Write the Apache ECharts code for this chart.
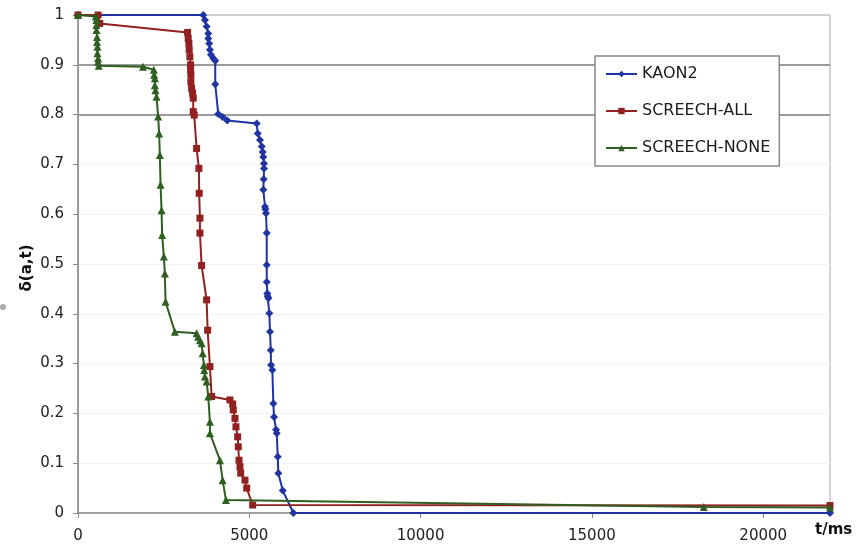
<!DOCTYPE html>
<html><head><meta charset="utf-8">
<script src="https://cdn.jsdelivr.net/npm/echarts@6/dist/echarts.min.js"></script>
<style>html,body{margin:0;padding:0;background:#fff}#c{width:866px;height:549px}</style>
</head><body><div id="c"></div>
<script>
const seriesNames = ['KAON2', 'SCREECH-ALL', 'SCREECH-NONE'];
const kaon2 = [[0,1],[3655,1],[3705,0.99],[3754,0.977],[3801,0.963],[3801,0.953],[3830,0.943],[3851,0.93],[3880,0.92],[3947,0.913],[4006,0.908],[4006,0.861],[4094,0.801],[4222,0.795],[4357,0.788],[5216,0.782],[5246,0.762],[5313,0.749],[5363,0.736],[5390,0.725],[5409,0.715],[5430,0.702],[5430,0.692],[5420,0.67],[5409,0.649],[5459,0.615],[5470,0.61],[5488,0.602],[5509,0.562],[5509,0.498],[5509,0.464],[5526,0.441],[5535,0.435],[5556,0.431],[5585,0.401],[5605,0.364],[5626,0.327],[5635,0.297],[5673,0.287],[5702,0.22],[5722,0.193],[5781,0.167],[5801,0.16],[5830,0.113],[5848,0.08],[5977,0.045],[6287,0],[21950,0]];
const screechAll = [[0,1],[585,1],[635,0.983],[3199,0.965],[3216,0.953],[3237,0.943],[3246,0.93],[3266,0.916],[3287,0.9],[3287,0.89],[3295,0.88],[3295,0.866],[3316,0.853],[3345,0.843],[3363,0.833],[3363,0.806],[3392,0.799],[3462,0.732],[3529,0.692],[3538,0.642],[3559,0.592],[3559,0.562],[3608,0.497],[3754,0.428],[3784,0.367],[3851,0.294],[3901,0.234],[4436,0.227],[4515,0.219],[4532,0.207],[4582,0.19],[4611,0.173],[4661,0.153],[4678,0.133],[4699,0.106],[4728,0.093],[4749,0.08],[4874,0.066],[4924,0.05],[5099,0.016],[21950,0.015]];
const screechNone = [[0,1],[517,0.997],[538,0.99],[538,0.98],[538,0.97],[556,0.956],[556,0.946],[567,0.936],[567,0.923],[585,0.913],[585,0.906],[605,0.898],[1900,0.896],[2213,0.89],[2222,0.88],[2243,0.873],[2243,0.859],[2263,0.849],[2292,0.836],[2339,0.796],[2368,0.762],[2389,0.719],[2409,0.659],[2439,0.608],[2456,0.558],[2506,0.515],[2535,0.481],[2556,0.424],[2827,0.364],[3462,0.361],[3509,0.354],[3559,0.347],[3608,0.341],[3637,0.321],[3676,0.297],[3684,0.287],[3705,0.274],[3754,0.264],[3801,0.234],[3851,0.183],[3851,0.16],[4143,0.106],[4222,0.066],[4319,0.026],[18266,0.012],[21950,0.011]];
const xMin = 0, xMax = 21950, xStep = 5000;
const yMin = 0, yMax = 1, yStep = 0.1;
const darkGridValues = [0.8, 0.9];
const topGridValue = [1];
const xAxisTitle = 't/ms';
const yAxisTitle = 'δ(a,t)';

const colors = ['#1f33a3', '#932020', '#2f5f20'];
const symbols = ['diamond', 'rect', 'triangle'];
const sizes = [8, 7, 8];
const dataSets = [kaon2, screechAll, screechNone];
const font = 'DejaVu Sans';

const chart = echarts.init(document.getElementById('c'), null, {renderer: 'canvas'});
const series = seriesNames.map((n, i) => ({
  name: n, type: 'line', data: dataSets[i], symbol: symbols[i], symbolSize: sizes[i],
  showAllSymbol: true,
  lineStyle: {color: colors[i], width: 2}, itemStyle: {color: colors[i]},
  z: 3 + i
}));
series[0].markLine = {
  silent: true, symbol: 'none', label: {show: false}, z: 1, animation: false,
  data: darkGridValues.map(v => ({yAxis: v, lineStyle: {color: '#9a9a9a', width: 2, type: 'solid'}}))
    .concat(topGridValue.map(v => ({yAxis: v, lineStyle: {color: '#cfcfcf', width: 2, type: 'solid'}})))
};
chart.setOption({
  animation: false,
  backgroundColor: '#fff',
  color: colors,
  grid: {left: 78, right: 36, top: 15, bottom: 36, show: true, borderColor: '#aaa', borderWidth: 1},
  legend: {
    orient: 'vertical', left: 595, top: 56, data: seriesNames,
    padding: [10, 9, 10, 10], itemGap: 21, itemWidth: 31, itemHeight: 8,
    backgroundColor: '#fff', borderColor: '#888', borderWidth: 1.5,
    textStyle: {fontFamily: font, fontSize: 16, color: '#1a1a1a', lineHeight: 14}
  },
  xAxis: {
    type: 'value', min: xMin, max: xMax, interval: xStep,
    axisLine: {lineStyle: {color: '#888', width: 1.5}},
    axisTick: {show: true, length: 5, lineStyle: {color: '#888'}},
    axisLabel: {fontFamily: font, fontSize: 15, color: '#222', margin: 16, showMaxLabel: false,
      formatter: v => String(v)},
    splitLine: {show: false}
  },
  yAxis: {
    type: 'value', min: yMin, max: yMax, interval: yStep,
    axisLine: {show: true, lineStyle: {color: '#888', width: 1.5}},
    axisTick: {show: true, length: 5, lineStyle: {color: '#888'}},
    axisLabel: {fontFamily: font, fontSize: 15, color: '#222', margin: 14,
      formatter: v => String(Math.round(v * 10) / 10)},
    splitLine: {show: true, lineStyle: {color: '#f2f2f2', width: 1}}
  },
  graphic: [
    {type: 'text', left: 815, top: 523, style: {text: xAxisTitle, font: 'bold 15px "DejaVu Sans"', fill: '#111'}},
    {type: 'text', x: 27, y: 268, rotation: Math.PI / 2,
      style: {text: yAxisTitle, font: 'bold 15px "DejaVu Sans"', fill: '#111', align: 'center', verticalAlign: 'middle'}},
    {type: 'circle', shape: {cx: 3, cy: 307, r: 3}, style: {fill: '#aaa'}}
  ],
  series: series
});
</script>
</body></html>
